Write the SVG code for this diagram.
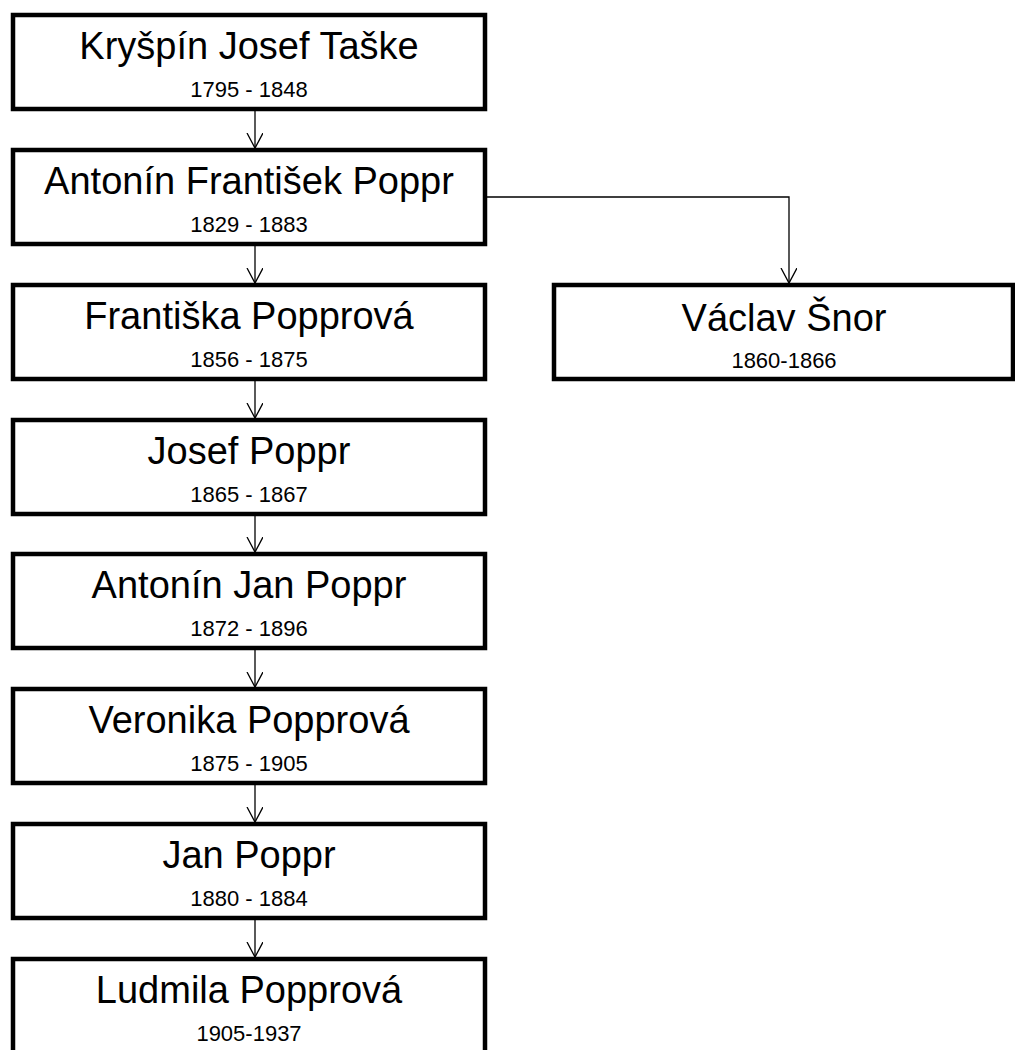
<svg xmlns="http://www.w3.org/2000/svg" width="1015" height="1050" viewBox="0 0 1015 1050">
<style>
.box{fill:#fff;stroke:#000;stroke-width:4.5}
.t{font-family:"Liberation Sans",Arial,sans-serif;font-size:38px;fill:#000;text-anchor:middle}
.y{font-family:"Liberation Sans",Arial,sans-serif;font-size:22px;fill:#000;text-anchor:middle}
.c{fill:none;stroke:#000;stroke-width:1.3}
</style>
<defs>
<marker id="a" markerWidth="20" markerHeight="20" refX="15" refY="8" orient="auto" markerUnits="userSpaceOnUse">
<path d="M0,0 L15,8 L0,16" fill="none" stroke="#000" stroke-width="1.3"/>
</marker>
</defs>
<rect width="1015" height="1050" fill="#fff"/>
<g id="connectors">
<line class="c" x1="255" y1="111" x2="255" y2="148" marker-end="url(#a)"/>
<line class="c" x1="255" y1="246" x2="255" y2="283" marker-end="url(#a)"/>
<line class="c" x1="255" y1="381" x2="255" y2="418" marker-end="url(#a)"/>
<line class="c" x1="255" y1="516" x2="255" y2="552" marker-end="url(#a)"/>
<line class="c" x1="255" y1="650" x2="255" y2="687" marker-end="url(#a)"/>
<line class="c" x1="255" y1="785" x2="255" y2="822" marker-end="url(#a)"/>
<line class="c" x1="255" y1="920" x2="255" y2="957" marker-end="url(#a)"/>
<polyline class="c" points="487,197 789,197 789,283" marker-end="url(#a)"/>
</g>
<g id="n1"><rect class="box" x="13" y="15" width="472" height="94"/><text class="t" x="249" y="59">Kryšpín Josef Taške</text><text class="y" x="249" y="97">1795 - 1848</text></g>
<g id="n2"><rect class="box" x="13" y="150" width="472" height="94"/><text class="t" x="249" y="194">Antonín František Poppr</text><text class="y" x="249" y="232">1829 - 1883</text></g>
<g id="n3"><rect class="box" x="13" y="285" width="472" height="94"/><text class="t" x="249" y="329">Františka Popprová</text><text class="y" x="249" y="367">1856 - 1875</text></g>
<g id="n4"><rect class="box" x="13" y="420" width="472" height="94"/><text class="t" x="249" y="464">Josef Poppr</text><text class="y" x="249" y="502">1865 - 1867</text></g>
<g id="n5"><rect class="box" x="13" y="554" width="472" height="94"/><text class="t" x="249" y="598">Antonín Jan Poppr</text><text class="y" x="249" y="636">1872 - 1896</text></g>
<g id="n6"><rect class="box" x="13" y="689" width="472" height="94"/><text class="t" x="249" y="733">Veronika Popprová</text><text class="y" x="249" y="771">1875 - 1905</text></g>
<g id="n7"><rect class="box" x="13" y="824" width="472" height="94"/><text class="t" x="249" y="868">Jan Poppr</text><text class="y" x="249" y="906">1880 - 1884</text></g>
<g id="n8"><rect class="box" x="13" y="959" width="472" height="94"/><text class="t" x="249" y="1003">Ludmila Popprová</text><text class="y" x="249" y="1041">1905-1937</text></g>
<g id="n9"><rect class="box" x="554" y="285" width="459" height="94"/><text class="t" x="784" y="331">Václav Šnor</text><text class="y" x="784" y="368">1860-1866</text></g>
</svg>
